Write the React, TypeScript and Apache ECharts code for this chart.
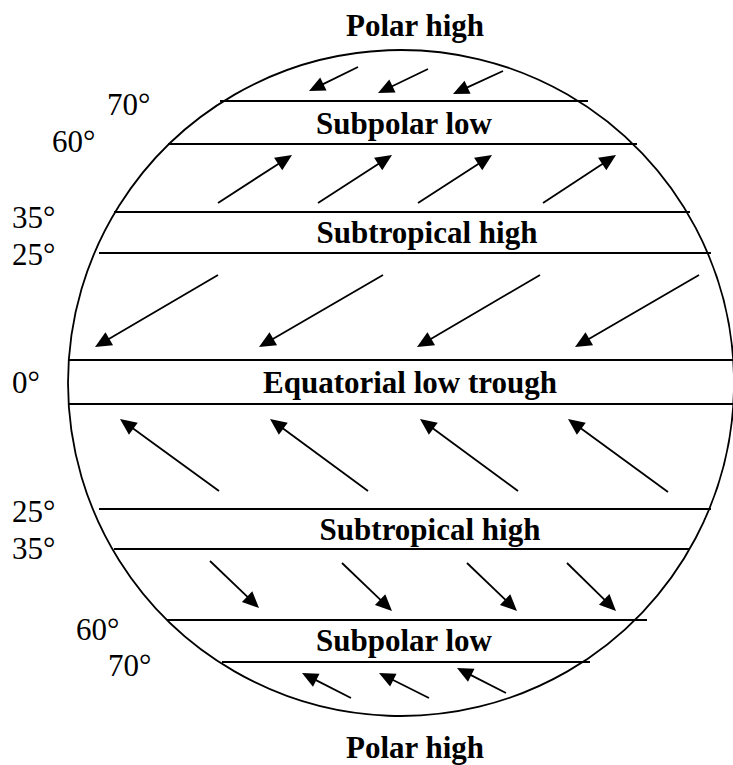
import React, { useEffect, useRef } from "react";
import * as echarts from "echarts";

// Globe outline: centre x, centre y, radius (diagram units = pixels of the 733x765 sheet)
const globe = [[401, 383, 333]];

// Latitude lines: x start, x end, y
const latLines = [
  [220, 588, 101],
  [168, 637, 144],
  [114, 690, 212],
  [99, 711, 253],
  [68, 733, 360],
  [68, 733, 404],
  [99, 711, 509],
  [114, 690, 549],
  [167, 647, 620],
  [222, 590, 662],
];

// Latitude labels
const latLabels = ["70°", "60°", "35°", "25°", "0°", "25°", "35°", "60°", "70°"];
const latLabelX = [107, 52, 12, 12, 12, 12, 12, 76, 108];
const latLabelY = [104, 141, 217, 254, 382, 511, 548, 629, 665];

// Pressure belt names
const beltNames = [
  "Polar high",
  "Subpolar low",
  "Subtropical high",
  "Equatorial low trough",
  "Subtropical high",
  "Subpolar low",
  "Polar high",
];
const beltX = [415, 404, 427, 410, 430, 404, 415];
const beltY = [25, 123, 232, 382, 529, 640, 747];

// Winds: tail x, tail y, tip x, tip y
const polarEasterliesN = [
  [358, 67, 309, 91],
  [428, 69, 378, 93],
  [503, 71, 453, 94],
];
const westerliesN = [
  [218, 203, 292, 155],
  [318, 203, 392, 155],
  [418, 203, 492, 155],
  [543, 203, 616, 155],
];
const tradesN = [
  [218, 275, 95, 347],
  [383, 275, 259, 347],
  [540, 275, 417, 347],
  [699, 275, 575, 347],
];
const tradesS = [
  [219, 491, 120, 419],
  [368, 491, 270, 419],
  [518, 491, 420, 419],
  [668, 492, 568, 419],
];
const westerliesS = [
  [210, 561, 259, 608],
  [342, 563, 392, 611],
  [467, 563, 517, 611],
  [567, 563, 616, 611],
];
const polarEasterliesS = [
  [351, 698, 302, 673],
  [429, 698, 379, 673],
  [506, 693, 457, 668],
];

const FONT = "Liberation Serif";

function arrowSeries(data: number[][], headLen: number, headHalf: number) {
  return {
    type: "custom",
    coordinateSystem: "cartesian2d",
    silent: true,
    data,
    renderItem: (_params: any, api: any) => {
      const t = api.coord([api.value(0), api.value(1)]);
      const h = api.coord([api.value(2), api.value(3)]);
      const dx = h[0] - t[0];
      const dy = h[1] - t[1];
      const L = Math.hypot(dx, dy) || 1;
      const ux = dx / L;
      const uy = dy / L;
      const bx = h[0] - ux * headLen;
      const by = h[1] - uy * headLen;
      return {
        type: "group",
        children: [
          {
            type: "line",
            shape: { x1: t[0], y1: t[1], x2: bx + ux * 2, y2: by + uy * 2 },
            style: { stroke: "#000", lineWidth: 1.8 },
          },
          {
            type: "polygon",
            shape: {
              points: [
                [h[0], h[1]],
                [bx - uy * headHalf, by + ux * headHalf],
                [bx + uy * headHalf, by - ux * headHalf],
              ],
            },
            style: { fill: "#000" },
          },
        ],
      };
    },
  };
}

export default function App() {
  const ref = useRef<HTMLDivElement>(null);

  useEffect(() => {
    if (!ref.current) return;
    const chart = echarts.init(ref.current, undefined, { renderer: "svg" });

    const latLabelData = latLabels.map((_, i) => [latLabelX[i], latLabelY[i]]);
    const beltData = beltNames.map((_, i) => [beltX[i], beltY[i]]);

    chart.setOption({
      animation: false,
      backgroundColor: "#ffffff",
      grid: { left: 0, right: 0, top: 0, bottom: 0 },
      xAxis: { type: "value", min: 0, max: 733, show: false },
      yAxis: { type: "value", min: 0, max: 765, inverse: true, show: false },
      series: [
        {
          type: "custom",
          coordinateSystem: "cartesian2d",
          silent: true,
          data: globe,
          renderItem: (_p: any, api: any) => {
            const c = api.coord([api.value(0), api.value(1)]);
            const r = api.size([api.value(2), 0])[0];
            return {
              type: "circle",
              shape: { cx: c[0], cy: c[1], r },
              style: { fill: "none", stroke: "#000", lineWidth: 1.8 },
            };
          },
        },
        {
          type: "custom",
          coordinateSystem: "cartesian2d",
          silent: true,
          data: latLines,
          renderItem: (_p: any, api: any) => {
            const a = api.coord([api.value(0), api.value(2)]);
            const b = api.coord([api.value(1), api.value(2)]);
            return {
              type: "line",
              shape: { x1: a[0], y1: a[1], x2: b[0], y2: b[1] },
              style: { stroke: "#000", lineWidth: 1.8 },
            };
          },
        },
        arrowSeries(polarEasterliesN, 16, 7.2),
        arrowSeries(westerliesN, 16.5, 7.5),
        arrowSeries(tradesN, 16.5, 7.5),
        arrowSeries(tradesS, 16.5, 7.5),
        arrowSeries(westerliesS, 16.5, 7.5),
        arrowSeries(polarEasterliesS, 16, 7.2),
        {
          type: "custom",
          coordinateSystem: "cartesian2d",
          silent: true,
          data: latLabelData,
          renderItem: (p: any, api: any) => {
            const c = api.coord([api.value(0), api.value(1)]);
            return {
              type: "text",
              x: c[0],
              y: c[1],
              style: {
                text: latLabels[p.dataIndex],
                fill: "#000",
                fontSize: 31,
                fontFamily: FONT,
                fontWeight: "normal",
                align: "left",
                verticalAlign: "middle",
              },
            };
          },
        },
        {
          type: "custom",
          coordinateSystem: "cartesian2d",
          silent: true,
          data: beltData,
          renderItem: (p: any, api: any) => {
            const c = api.coord([api.value(0), api.value(1)]);
            return {
              type: "text",
              x: c[0],
              y: c[1],
              style: {
                text: beltNames[p.dataIndex],
                fill: "#000",
                fontSize: 31,
                fontFamily: FONT,
                fontWeight: "bold",
                align: "center",
                verticalAlign: "middle",
              },
            };
          },
        },
      ],
    });

    return () => chart.dispose();
  }, []);

  return (
    <div
      ref={ref}
      style={{ position: "fixed", left: 0, top: 0, width: 733, height: 765, background: "#fff" }}
    />
  );
}
